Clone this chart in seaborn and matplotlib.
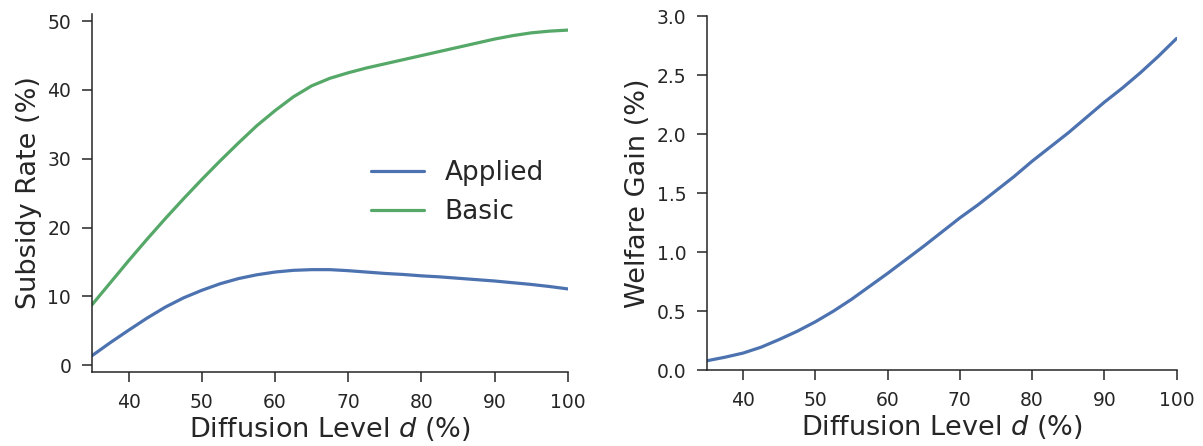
import numpy as np
import pandas as pd
import seaborn as sns
import matplotlib
matplotlib.use("Agg")
import matplotlib.pyplot as plt

# diffusion level d (%)
diffusion = [35, 37.5, 40, 42.5, 45, 47.5, 50, 52.5, 55, 57.5, 60, 62.5, 65, 67.5,
             70, 72.5, 75, 77.5, 80, 82.5, 85, 87.5, 90, 92.5, 95, 97.5, 100]

# subsidy rate (%)
applied = [1.4, 3.3, 5.1, 6.85, 8.45, 9.8, 10.9, 11.85, 12.6, 13.15, 13.55, 13.8, 13.9, 13.9,
           13.75, 13.55, 13.35, 13.2, 13.0, 12.85, 12.65, 12.45, 12.25, 12.0, 11.75, 11.45, 11.1]
basic = [8.8, 12.0, 15.2, 18.3, 21.3, 24.2, 27.0, 29.7, 32.3, 34.8, 37.0, 39.0, 40.6, 41.7,
         42.5, 43.2, 43.8, 44.4, 45.0, 45.6, 46.2, 46.8, 47.4, 47.9, 48.3, 48.55, 48.7]

# welfare gain (%)
welfare = [0.08, 0.11, 0.145, 0.195, 0.26, 0.33, 0.41, 0.50, 0.60, 0.71, 0.82, 0.935, 1.05, 1.17,
           1.29, 1.40, 1.52, 1.64, 1.77, 1.89, 2.01, 2.14, 2.27, 2.39, 2.52, 2.66, 2.81]

sns.set_theme(style="ticks")
plt.rcParams['font.family'] = ['DejaVu Sans']
plt.rcParams['axes.linewidth'] = 1.1
plt.rcParams['xtick.major.size'] = 7
plt.rcParams['ytick.major.size'] = 7
plt.rcParams['xtick.major.width'] = 1.1
plt.rcParams['ytick.major.width'] = 1.1
plt.rcParams['xtick.major.pad'] = 8
plt.rcParams['ytick.major.pad'] = 8

blue = "#4C72B0"
green = "#55A868"

df = pd.DataFrame({"d": diffusion * 2,
                   "rate": applied + basic,
                   "type": ["Applied"] * len(diffusion) + ["Basic"] * len(diffusion)})
df_w = pd.DataFrame({"d": diffusion, "gain": welfare})

fig = plt.figure(figsize=(12.03, 4.46), dpi=100)
ax1 = fig.add_axes([0.0765, 0.166, 0.3955, 0.803])
ax2 = fig.add_axes([0.5877, 0.170, 0.3903, 0.794])

sns.lineplot(data=df, x="d", y="rate", hue="type", palette=[blue, green],
             linewidth=2.3, ax=ax1)
ax1.set_xlim(35, 100)
ax1.set_xticks([40, 50, 60, 70, 80, 90, 100])
ax1.set_yticks([0, 10, 20, 30, 40, 50])
ax1.set_xlabel("Diffusion Level $d$ (%)", fontsize=19.5, labelpad=2)
ax1.set_ylabel("Subsidy Rate (%)", fontsize=19.5)
ax1.tick_params(labelsize=13.5)
ax1.legend(loc="center right", frameon=False, fontsize=19, handlelength=2.0)

sns.lineplot(data=df_w, x="d", y="gain", color=blue, linewidth=2.3, ax=ax2)
ax2.set_xlim(35, 100)
ax2.set_ylim(0, 3)
ax2.set_xticks([40, 50, 60, 70, 80, 90, 100])
ax2.set_yticks([0, 0.5, 1.0, 1.5, 2.0, 2.5, 3.0])
ax2.set_xlabel("Diffusion Level $d$ (%)", fontsize=19.5, labelpad=2)
ax2.set_ylabel("Welfare Gain (%)", fontsize=19.5)
ax2.tick_params(labelsize=13.5)

sns.despine(fig=fig)
fig.savefig("out.png", dpi=100)
